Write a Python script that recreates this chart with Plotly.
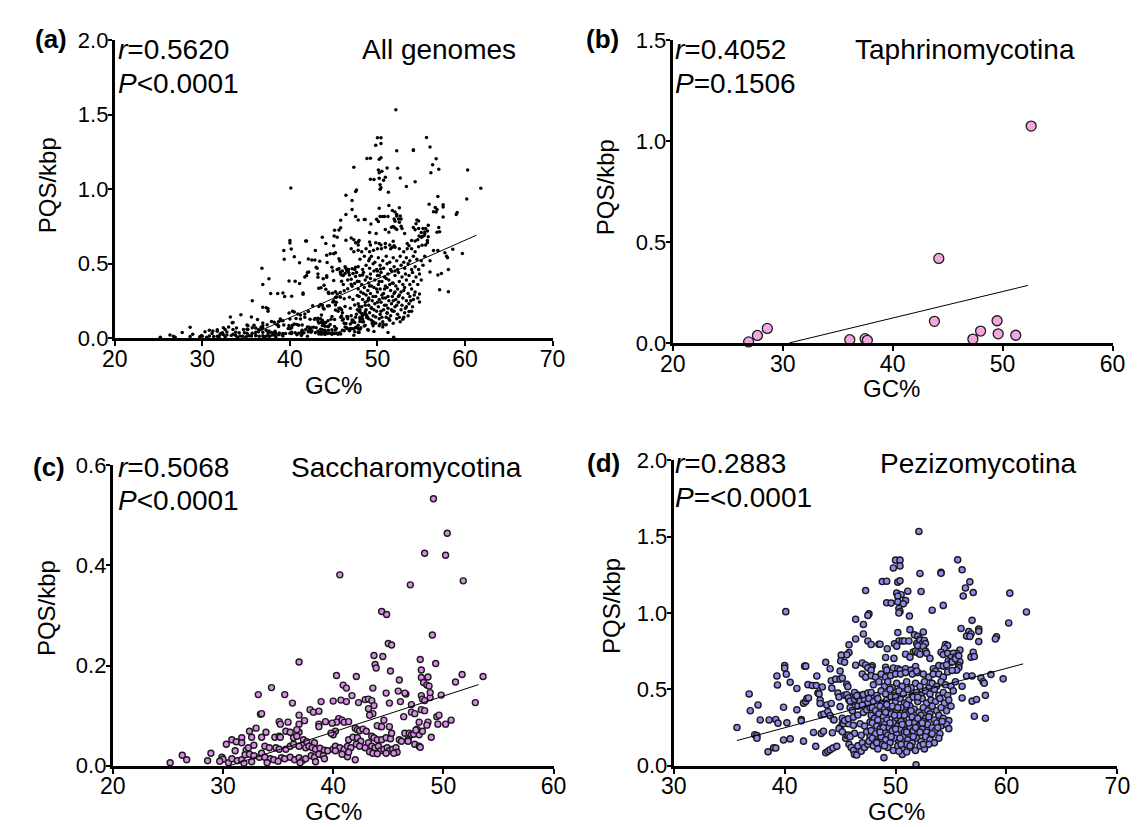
import plotly.graph_objects as go

# ---------------- data ----------------
# Taphrinomycotina (GC%, PQS/kbp)
tap_gc  = [26.9, 27.7, 28.6, 36.1, 37.5, 37.7, 43.8, 44.2, 47.3, 48.0, 49.5, 49.6, 51.2, 52.6]
tap_pqs = [0.005, 0.037, 0.072, 0.016, 0.021, 0.013, 0.107, 0.419, 0.019, 0.059, 0.110, 0.045, 0.038, 1.075]

# Saccharomycotina (GC%, PQS/kbp)
sac_points = [
 (49.1,0.533),(50.35,0.464),(48.3,0.424),(50.2,0.420),(40.6,0.381),(51.8,0.369),(47.0,0.361),(44.4,0.308),
 (44.85,0.302),(49.0,0.261),(45.0,0.244),(45.3,0.241),(36.9,0.207),(43.7,0.220),(44.5,0.218),(47.9,0.212),
 (43.8,0.202),(43.9,0.195),(45.2,0.189),(49.3,0.204),(48.0,0.191),(48.0,0.176),(48.6,0.177),(48.2,0.166),
 (48.5,0.161),(48.7,0.159),(40.3,0.180),(42.1,0.178),(51.7,0.182),(53.6,0.178),(51.1,0.167),(46.0,0.171),
 (40.9,0.161),(41.2,0.155),(43.6,0.155),(34.4,0.156),(35.6,0.142),(33.2,0.142),(44.8,0.145),(45.9,0.149),
 (46.6,0.143),(46.5,0.145),(49.8,0.141),(41.7,0.140),(40.7,0.131),(41.2,0.128),(40.0,0.129),(38.9,0.128),
 (36.3,0.125),(42.3,0.126),(42.9,0.132),(43.2,0.133),(43.5,0.130),(43.7,0.120),(45.1,0.125),(46.1,0.128),
 (47.1,0.122),(52.9,0.126),(48.0,0.140),(48.1,0.133),(48.3,0.130),(48.8,0.136),(48.8,0.146),(43.2,0.114),
 (48.0,0.112),(48.3,0.110),(37.9,0.112),(38.2,0.107),(38.7,0.109),(33.4,0.103),(33.5,0.104),(36.9,0.101),
 (47.1,0.107),(47.4,0.104),(49.4,0.098),(49.6,0.101),(43.6,0.104),(43.3,0.101),(46.4,0.098),(40.5,0.094),
 (40.8,0.091),(40.3,0.087),(41.0,0.087),(41.4,0.088),(39.3,0.088),(39.9,0.085),(37.4,0.090),(35.1,0.088),
 (35.2,0.083),(35.9,0.087),(36.9,0.083),(38.7,0.083),(38.7,0.078),(48.6,0.087),(48.5,0.081),(47.8,0.087),
 (50.7,0.091),(50.2,0.083),(49.5,0.083),(44.6,0.091),(45.1,0.078),(44.3,0.078),(42.0,0.075),(42.2,0.072),
 (42.4,0.070),(42.7,0.073),(43.0,0.069),(44.0,0.080),(44.4,0.078),(32.4,0.069),(33.0,0.075),(33.9,0.067),
 (35.7,0.069),(36.1,0.067),(36.9,0.067),(36.7,0.072),(40.2,0.069),(40.0,0.062),(39.8,0.065),(46.5,0.065),
 (46.9,0.065),(47.1,0.062),(47.3,0.063),(47.8,0.062),(48.1,0.069),(47.6,0.073),(47.5,0.071),(30.8,0.052),
 (31.2,0.048),(31.7,0.056),(31.7,0.046),(32.6,0.057),(33.5,0.057),(34.7,0.057),(35.1,0.059),(35.2,0.057),
 (36.4,0.056),(36.7,0.059),(37.3,0.052),(37.6,0.048),(38.3,0.046),(41.4,0.052),(41.8,0.057),(42.2,0.056),
 (42.5,0.049),(43.5,0.059),(43.7,0.056),(44.0,0.052),(44.4,0.052),(44.8,0.056),(45.2,0.054),(45.3,0.065),
 (46.0,0.052),(46.2,0.049),(46.8,0.052),(48.9,0.057),(30.3,0.043),(31.1,0.030),(32.1,0.031),(32.3,0.036),
 (32.8,0.041),(33.8,0.039),(34.2,0.036),(34.8,0.036),(35.1,0.033),(35.7,0.033),(36.1,0.039),(36.4,0.043),
 (36.9,0.039),(37.5,0.036),(37.8,0.039),(38.1,0.036),(38.4,0.033),(38.8,0.035),(39.2,0.031),(39.5,0.030),
 (40.0,0.033),(40.2,0.039),(40.6,0.036),(41.0,0.033),(41.3,0.039),(41.6,0.036),(42.1,0.043),(42.4,0.039),
 (42.9,0.036),(43.2,0.046),(43.5,0.039),(43.8,0.036),(44.1,0.039),(44.3,0.030),(44.6,0.033),(44.9,0.036),
 (45.1,0.030),(45.4,0.033),(45.7,0.036),(45.8,0.027),(47.4,0.043),(47.8,0.039),(47.9,0.037),(46.8,0.049),
 (28.9,0.025),(26.3,0.021),(26.7,0.012),(25.2,0.006),(28.6,0.010),(29.9,0.017),(30.0,0.013),(29.7,0.009),
 (30.5,0.006),(30.8,0.014),(31.3,0.010),(31.7,0.012),(32.0,0.022),(32.4,0.023),(32.8,0.020),(33.3,0.017),
 (33.5,0.025),(33.8,0.017),(34.3,0.014),(34.6,0.012),(35.3,0.016),(35.6,0.014),(36.1,0.017),(36.5,0.012),
 (36.9,0.016),(37.2,0.010),(37.5,0.014),(38.0,0.020),(38.3,0.017),(38.7,0.023),(39.1,0.020),(39.2,0.014),
 (40.2,0.030),(40.8,0.023),(41.3,0.018),(42.0,0.012),(41.4,0.027),(43.3,0.028),(43.6,0.025),(44.0,0.024),
 (44.8,0.025),(45.5,0.025),(31.9,0.005),(32.6,0.008),(34.0,0.006),(35.0,0.009),(37.0,0.006),(38.4,0.008),
]

# Pezizomycotina (GC%, PQS/kbp)
pez_points = [
 (52.1,1.534),(55.6,1.348),(50.0,1.346),(50.4,1.346),(49.8,1.295),(50.4,1.308),(56.0,1.283),(54.1,1.266),
 (54.1,1.26),(52.2,1.259),(48.8,1.206),(49.2,1.208),(50.2,1.202),(50.4,1.211),(56.7,1.204),(56.3,1.164),
 (47.3,1.147),(51.1,1.143),(52.3,1.141),(57.0,1.134),(60.3,1.130),(50.1,1.13),(50.5,1.12),(50.2,1.11),
 (56.1,1.111),(49.2,1.067),(49.6,1.065),(50.2,1.073),(50.9,1.081),(50.7,1.060),(54.3,1.05),(50.3,1.03),
 (50.4,1.01),(50.3,1.00),(51.25,0.980),(53.3,1.018),(47.6,0.995),(47.5,0.984),(40.1,1.009),(61.8,1.007),
 (46.4,0.959),(56.9,0.952),(60.2,0.935),(47.1,0.925),(47.1,0.863),(50.2,0.872),(52.5,0.876),(51.3,0.891),
 (55.9,0.899),(56.6,0.878),(56.8,0.863),(57.5,0.895),(57.5,0.88),(57.5,0.813),(59.1,0.844),(59.0,0.83),
 (51.7,0.857),(52.0,0.847),(52.2,0.83),(56.4,0.849),(56.7,0.847),(46.4,0.830),(50.3,0.817),(50.6,0.817),
 (50.8,0.817),(51.2,0.817),(47.5,0.817),(47.8,0.794),(48.5,0.796),(48.6,0.796),(51.9,0.80),(52.2,0.82),
 (52.4,0.80),(52.6,0.82),(52.7,0.80),(49.9,0.798),(50.1,0.783),(54.5,0.794),(54.7,0.787),(54.4,0.768),
 (45.8,0.792),(52.0,0.785),(52.5,0.779),(49.25,0.766),(51.6,0.745),(51.8,0.75),(52.0,0.74),(52.2,0.73),
 (52.7,0.751),(52.8,0.736),(55.8,0.758),(55.5,0.736),(45.8,0.741),(45.6,0.726),(45.1,0.724),(57.0,0.743),
 (54.1,0.743),(54.3,0.728),(54.7,0.736),(55.2,0.736),(55.0,0.709),(55.4,0.713),(53.1,0.703),(49.85,0.703),
 (49.1,0.709),(50.9,0.730),(51.3,0.711),(56.8,0.711),(57.1,0.715),(43.7,0.677),(45.05,0.686),(45.4,0.677),
 (47.0,0.673),(47.3,0.66),(47.9,0.655),(47.8,0.645),(55.8,0.681),(55.7,0.656),(54.75,0.686),(55.3,0.688),
 (53.9,0.656),(54.3,0.652),(55.0,0.677),(40.0,0.656),(40.0,0.639),(41.8,0.652),(41.9,0.652),(46.4,0.658),
 (44.1,0.635),(45.0,0.620),(47.5,0.641),(47.8,0.626),(49.1,0.645),(49.2,0.626),(49.8,0.64),(50.2,0.635),
 (50.4,0.626),(50.9,0.635),(51.8,0.65),(51.4,0.626),(51.7,0.61),(52.0,0.61),(53.4,0.635),(53.6,0.62),
 (55.7,0.641),(55.5,0.626),(54.7,0.614),(55.1,0.624),(58.6,0.597),(59.7,0.569),(56.4,0.588),(56.9,0.588),
 (57.7,0.574),(57.9,0.55),(58.0,0.54),(39.3,0.588),(39.35,0.529),(40.15,0.599),(40.5,0.546),(42.9,0.588),
 (41.1,0.506),(42.1,0.531),(42.5,0.525),(42.85,0.525),(43.4,0.516),(44.2,0.557),(44.25,0.508),(44.6,0.567),
 (45.0,0.567),(45.2,0.574),(45.6,0.533),(45.7,0.518),(44.8,0.476),(43.0,0.476),(43.1,0.47),(46.0,0.45),
 (46.1,0.421),(45.8,0.43),(46.4,0.47),(46.7,0.461),(46.7,0.44),(47.4,0.461),(47.6,0.44),(36.8,0.470),
 (37.6,0.398),(36.9,0.36),(37.8,0.30),(38.6,0.30),(39.2,0.303),(39.4,0.279),(39.9,0.383),(40.2,0.281),
 (41.1,0.366),(41.5,0.303),(41.5,0.294),(41.7,0.41),(41.9,0.421),(42.0,0.44),(42.15,0.444),(43.2,0.43),
 (43.2,0.408),(43.3,0.334),(43.55,0.339),(43.9,0.355),(43.8,0.398),(44.2,0.408),(44.1,0.328),(44.4,0.303),
 (45.0,0.387),(44.9,0.45),(45.4,0.461),(45.6,0.465),(35.7,0.25),(37.3,0.203),(37.5,0.197),(37.5,0.18),
 (38.5,0.091),(39.0,0.118),(39.2,0.116),(39.9,0.169),(40.5,0.176),(41.7,0.161),(42.6,0.218),(42.8,0.127),
 (43.3,0.212),(43.5,0.226),(43.7,0.085),(43.9,0.095),(44.1,0.105),(44.35,0.116),(44.7,0.127),(44.3,0.216),
 (45.0,0.25),(45.2,0.275),(44.45,0.30),
 (45.5,0.18),(45.6,0.20),(46.3,0.212),(46.9,0.20),(47.4,0.222),(47.7,0.19),(45.3,0.275),(45.75,0.275),
 (46.2,0.265),(46.8,0.275),(47.2,0.26),(47.7,0.286),(45.2,0.311),(45.4,0.296),(45.75,0.307),(46.2,0.318),
 (46.6,0.332),(47.1,0.349),(47.4,0.366),(47.7,0.381),(45.75,0.444),(45.9,0.423),(46.3,0.434),(46.5,0.451),
 (46.8,0.423),(47.2,0.434),(47.5,0.413),(46.3,0.48),(46.5,0.459),(47.1,0.466),(47.5,0.476),(45.75,0.201),
 (45.9,0.19),(44.9,0.243),(45.2,0.222),(45.8,0.14),(46.0,0.12),(46.2,0.10),(46.3,0.074),(46.5,0.07),
 (46.9,0.095),(46.6,0.13),(47.0,0.15),(47.2,0.12),(47.5,0.14),(47.6,0.16),(45.9,0.381),(46.1,0.36),
 (46.6,0.39),(47.0,0.396),
 (47.0,0.60),(47.3,0.58),(47.8,0.59),(48.2,0.58),(48.7,0.60),(49.1,0.58),(49.55,0.59),(50.0,0.60),
 (50.45,0.60),(50.9,0.61),(51.5,0.60),(51.9,0.62),(52.5,0.60),(53.0,0.58),(53.4,0.60),(53.9,0.60),
 (54.3,0.58),(54.6,0.66),(55.1,0.68),(55.4,0.70),(55.7,0.72),
 (48.0,0.53),(48.5,0.55),(49.0,0.52),(49.3,0.55),(49.7,0.51),(50.1,0.54),(50.6,0.52),(51.0,0.55),
 (51.4,0.51),(51.8,0.54),(52.2,0.52),(52.6,0.55),(53.0,0.51),(53.3,0.54),(53.7,0.52),(54.1,0.55),
 (54.5,0.53),(55.0,0.52),(55.4,0.55),(56.0,0.52),
 (47.8,0.48),(48.3,0.46),(48.7,0.49),(49.1,0.47),(49.5,0.50),(49.9,0.46),(50.3,0.49),(50.7,0.47),
 (51.1,0.50),(51.5,0.46),(51.9,0.48),(52.3,0.46),(52.7,0.49),(53.1,0.47),(53.5,0.50),(53.9,0.46),
 (54.3,0.48),(54.7,0.46),(55.2,0.49),
 (47.6,0.44),(48.0,0.42),(48.4,0.44),(48.8,0.41),(49.2,0.43),(49.6,0.45),(50.0,0.42),(50.4,0.44),
 (50.8,0.41),(51.2,0.43),(51.6,0.45),(52.0,0.42),(52.4,0.44),(52.8,0.41),(53.2,0.43),(53.6,0.42),
 (54.0,0.44),(54.4,0.41),(54.8,0.43),(56.0,0.444),(56.9,0.423),(57.3,0.434),(58.1,0.461),
 (47.9,0.38),(48.2,0.36),(48.6,0.39),(49.0,0.37),(49.3,0.35),(49.7,0.39),(50.1,0.36),(50.5,0.38),
 (50.9,0.35),(51.3,0.39),(51.7,0.37),(52.1,0.35),(52.5,0.38),(52.9,0.36),(53.3,0.39),(53.7,0.36),
 (54.1,0.38),(54.6,0.36),(55.0,0.39),
 (47.8,0.33),(48.1,0.31),(48.5,0.34),(48.9,0.32),(49.2,0.30),(49.6,0.34),(50.0,0.31),(50.3,0.33),
 (50.7,0.30),(51.1,0.34),(51.5,0.32),(51.9,0.30),(52.3,0.33),(52.7,0.31),(53.1,0.34),(53.5,0.30),
 (53.9,0.33),(54.3,0.31),(54.8,0.296),(57.1,0.324),(58.1,0.311),
 (47.9,0.28),(48.3,0.26),(48.7,0.29),(49.0,0.27),(49.4,0.25),(49.8,0.28),(50.2,0.26),(50.5,0.29),
 (50.9,0.27),(51.3,0.25),(51.7,0.28),(52.1,0.26),(52.5,0.29),(52.9,0.27),(53.3,0.25),(53.7,0.28),
 (54.1,0.26),(54.6,0.27),
 (47.8,0.23),(48.2,0.21),(48.6,0.24),(49.0,0.22),(49.3,0.20),(49.7,0.23),(50.1,0.21),(50.4,0.24),
 (50.8,0.22),(51.2,0.20),(51.6,0.23),(52.0,0.21),(52.4,0.24),(52.8,0.22),(53.2,0.20),(53.6,0.23),
 (54.0,0.21),(54.8,0.243),
 (47.9,0.18),(48.3,0.16),(48.7,0.19),(49.1,0.17),(49.5,0.15),(49.9,0.18),(50.3,0.16),(50.7,0.19),
 (51.1,0.17),(51.5,0.15),(51.9,0.18),(52.3,0.16),(52.7,0.19),(53.1,0.17),(53.5,0.15),(53.9,0.18),
 (48.0,0.13),(48.4,0.11),(48.8,0.14),(49.3,0.12),(49.8,0.10),(50.2,0.13),(50.6,0.11),(51.0,0.14),
 (51.4,0.12),(51.8,0.10),(52.2,0.13),(52.6,0.11),(53.0,0.14),
 (48.95,0.053),(50.6,0.074),(51.85,0.006),(50.3,0.095),(51.0,0.09),
 (48.4,0.30),(48.9,0.25),(49.1,0.35),(49.5,0.28),(49.6,0.19),(49.9,0.33),(50.0,0.24),(50.2,0.38),
 (50.4,0.18),(50.6,0.27),(50.8,0.33),(51.0,0.22),(51.2,0.28),(51.4,0.36),(51.6,0.19),(51.8,0.25),
 (52.0,0.31),(52.2,0.22),(52.4,0.28),(48.6,0.22),(49.2,0.40),(50.0,0.45),(51.0,0.40),(52.0,0.45),
 (48.3,0.15),(49.0,0.13),(50.5,0.14),(51.3,0.13),(52.5,0.14),(53.3,0.21),(53.8,0.25),(54.2,0.29),(53.0,0.32),
]

sac_gc = [p[0] for p in sac_points]
sac_pqs = [p[1] for p in sac_points]
pez_gc = [p[0] for p in pez_points]
pez_pqs = [p[1] for p in pez_points]

# All genomes = the union of the three subphyla
all_gc = tap_gc + sac_gc + pez_gc
all_pqs = tap_pqs + sac_pqs + pez_pqs

# regression lines (end points)
fit_all_gc, fit_all_pqs = [34.7, 61.3], [0.0, 0.691]
fit_tap_gc, fit_tap_pqs = [30.6, 52.3], [0.0, 0.285]
fit_sac_gc, fit_sac_pqs = [30.6, 53.2], [0.0, 0.162]
fit_pez_gc, fit_pez_pqs = [35.7, 61.5], [0.165, 0.667]

# ---------------- layout helpers ----------------
W, H = 1139, 827
FONT = "Liberation Sans, Arial, sans-serif"

def fx(px):
    return px / W

def fy(py):
    return 1 - py / H

panels = [
    dict(k="", xpx=(96, 544), ypx=(21, 328), xr=(20, 70), yr=(0, 2.0), yd=0.5, xd=10),
    dict(k="2", xpx=(667, 1117), ypx=(21, 333), xr=(20, 60), yr=(0, 1.5), yd=0.5, xd=10),
    dict(k="3", xpx=(94, 545), ypx=(459, 769), xr=(20, 60), yr=(0, 0.6), yd=0.2, xd=10),
    dict(k="4", xpx=(668, 1122), ypx=(454, 769), xr=(30, 70), yr=(0, 2.0), yd=0.5, xd=10),
]

fig = go.Figure()

def add_pts(k, x, y, size, fill, line_w, line_col):
    fig.add_trace(go.Scatter(
        x=x, y=y, mode="markers", xaxis="x" + k, yaxis="y" + k,
        marker=dict(size=size, color=fill, line=dict(width=line_w, color=line_col)),
        cliponaxis=False, showlegend=False, hoverinfo="skip"))

def add_fit(k, x, y):
    fig.add_trace(go.Scatter(
        x=x, y=y, mode="lines", xaxis="x" + k, yaxis="y" + k,
        line=dict(color="black", width=1), showlegend=False, hoverinfo="skip"))

add_pts("", all_gc, all_pqs, 3.5, "black", 0, "black")
add_fit("", fit_all_gc, fit_all_pqs)
add_pts("2", tap_gc, tap_pqs, 10, "#F2A7E3", 1.3, "#1a1a1a")
add_fit("2", fit_tap_gc, fit_tap_pqs)
add_pts("3", sac_gc, sac_pqs, 6, "#D98CE8", 1.4, "#1a1a1a")
add_fit("3", fit_sac_gc, fit_sac_pqs)
add_pts("4", pez_gc, pez_pqs, 6.2, "#8C8CF0", 1.4, "#1a1a1a")
add_fit("4", fit_pez_gc, fit_pez_pqs)

layout = dict(
    width=W, height=H, margin=dict(l=0, r=0, t=0, b=0),
    paper_bgcolor="white", plot_bgcolor="white",
    font=dict(family=FONT, color="black", size=22),
)

for p in panels:
    k = p["k"]
    ax = dict(
        domain=[fx(p["xpx"][0]), fx(p["xpx"][1])], range=list(p["xr"]),
        anchor="y" + k, showgrid=False, zeroline=False, showline=True,
        linecolor="black", linewidth=3, ticks="outside", ticklen=5, tickwidth=2,
        tickcolor="black", dtick=p["xd"], tick0=p["xr"][0], ticklabelstandoff=-7,
        tickfont=dict(size=23, family=FONT), fixedrange=True,
    )
    ay = dict(
        domain=[fy(p["ypx"][1]), fy(p["ypx"][0])], range=list(p["yr"]),
        anchor="x" + k, showgrid=False, zeroline=False, showline=True,
        linecolor="black", linewidth=3, ticks="outside", ticklen=4, tickwidth=2,
        tickcolor="black", dtick=p["yd"], tick0=0, tickformat=".1f", ticklabelstandoff=-5,
        tickfont=dict(size=22, family=FONT), fixedrange=True,
    )
    layout["xaxis" + k] = ax
    layout["yaxis" + k] = ay

fig.update_layout(**layout)

def ann(text, x, y, size, xanchor="left", bold=False, angle=0):
    fig.add_annotation(
        text=("<b>%s</b>" % text) if bold else text, x=fx(x), y=fy(y),
        xref="paper", yref="paper", xanchor=xanchor, yanchor="middle",
        showarrow=False, textangle=angle, font=dict(size=size, family=FONT, color="black"))

# panel letters
ann("(a)", 12, 20, 26, bold=True)
ann("(b)", 576, 20, 26, bold=True)
ann("(c)", 10, 461, 26, bold=True)
ann("(d)", 577, 457, 26, bold=True)

# statistics
ann("<i>r</i>=0.5620", 97, 30, 28)
ann("<i>P</i><0.0001", 97, 65, 28)
ann("<i>r</i>=0.4052", 667, 30, 28)
ann("<i>P</i>=0.1506", 667, 65, 28)
ann("<i>r</i>=0.5068", 97, 461, 28)
ann("<i>P</i><0.0001", 97, 495, 28)
ann("<i>r</i>=0.2883", 667, 457, 28)
ann("<i>P</i>=<0.0001", 667, 492, 28)

# titles
ann("All genomes", 428, 30, 28, xanchor="center")
ann("Taphrinomycotina", 966, 30, 28, xanchor="center")
ann("Saccharomycotina", 395, 461, 28, xanchor="center")
ann("Pezizomycotina", 980, 457, 28, xanchor="center")

# axis titles
ann("GC%", 320, 377, 24, xanchor="center")
ann("GC%", 891, 380, 24, xanchor="center")
ann("GC%", 320, 816, 24, xanchor="center")
ann("GC%", 896, 816, 24, xanchor="center")
ann("PQS/kbp", 27, 170, 24, xanchor="center", angle=-90)
ann("PQS/kbp", 598, 172, 24, xanchor="center", angle=-90)
ann("PQS/kbp", 26, 606, 24, xanchor="center", angle=-90)
ann("PQS/kbp", 605, 604, 24, xanchor="center", angle=-90)

fig.write_html("out.html")
